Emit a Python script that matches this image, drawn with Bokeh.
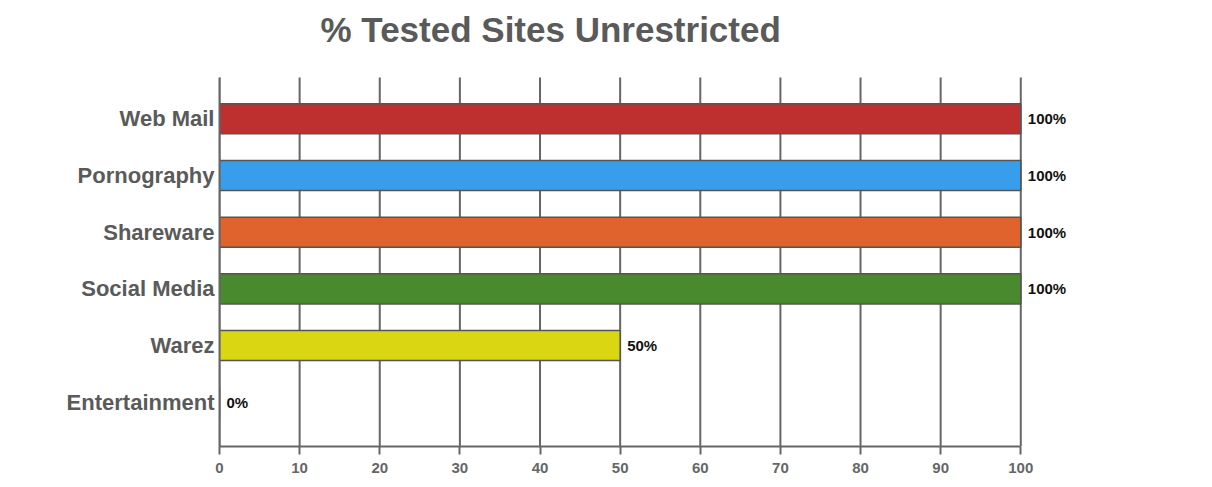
from bokeh.plotting import figure
from bokeh.models import Range1d, FixedTicker, ColumnDataSource, Label
from bokeh.core.properties import value
from bokeh.embed import file_html
from bokeh.resources import INLINE

title_text = "% Tested Sites Unrestricted"
categories = ["Web Mail", "Pornography", "Shareware", "Social Media", "Warez", "Entertainment"]
percent_values = [100, 100, 100, 100, 50, 0]
bar_colors = ["#BE2F2F", "#389EEB", "#E0632E", "#488A2D", "#DAD712", "#FFFFFF"]
x_ticks = [0, 10, 20, 30, 40, 50, 60, 70, 80, 90, 100]

FONT = "Liberation Sans"
GRAY = "#5a5a5a"
LINE = "#666666"

n = len(categories)
y_pos = [n - 1 - i for i in range(n)]          # first category at the top

Y_BOTTOM = -0.78          # lower edge of the plotting area
Y_GRID_TOP = n - 1 + 0.728  # where the grid/axis stops at the top
Y_TOP = n - 1 + 2.086     # frame extends upward to hold the title

source = ColumnDataSource(dict(
    y=y_pos,
    cat=categories,
    val=percent_values,
    color=bar_colors,
    label=[f"{v}%" for v in percent_values],
))
grid_source = ColumnDataSource(dict(x=x_ticks))

p = figure(
    y_range=Range1d(Y_BOTTOM, Y_TOP),
    x_range=Range1d(0, 108.7),
    frame_width=871, frame_height=446,
    min_border_left=219, min_border_top=0, min_border_right=10, min_border_bottom=30,
    output_backend="svg", toolbar_location=None,
)

p.outline_line_color = None
p.background_fill_color = "white"
p.border_fill_color = "white"

# grid (vertical lines at the tick values, stopping below the title)
p.xgrid.grid_line_color = None
p.ygrid.grid_line_color = None
p.segment(x0="x", x1="x", y0=Y_BOTTOM, y1=Y_GRID_TOP, source=grid_source,
          line_color=LINE, line_width=2)

# bars
p.hbar(y="y", right="val", left=0, height=0.53, source=source,
       fill_color="color", line_color="#555555", line_width=1.5)

p.text(x="val", y="y", text="label", source=source, x_offset=7,
       text_baseline="middle", text_align="left",
       text_font=value(FONT), text_font_size="15px", text_font_style="bold",
       text_color="#111111")

# title
p.add_layout(Label(x=0, y=Y_GRID_TOP, x_offset=101, y_offset=48,
                   text=title_text, text_font=FONT, text_font_size="35px",
                   text_font_style="bold", text_color=GRAY,
                   text_align="left", text_baseline="alphabetic"))

# x axis
xa = p.xaxis[0]
xa.ticker = FixedTicker(ticks=x_ticks)
xa.bounds = (0, 100)
xa.axis_line_color = LINE
xa.axis_line_width = 2
xa.major_tick_line_color = LINE
xa.major_tick_line_width = 2
xa.major_tick_in = 0
xa.major_tick_out = 8
xa.minor_tick_line_color = None
xa.major_label_text_font = FONT
xa.major_label_text_font_size = "15px"
xa.major_label_text_font_style = "bold"
xa.major_label_text_color = LINE
xa.major_label_standoff = 8

# y axis
ya = p.yaxis[0]
ya.ticker = FixedTicker(ticks=y_pos)
ya.major_label_overrides = {y: c for y, c in zip(y_pos, categories)}
ya.bounds = (Y_BOTTOM, Y_GRID_TOP)
ya.axis_line_color = LINE
ya.axis_line_width = 2
ya.major_tick_line_color = None
ya.major_tick_in = 0
ya.major_tick_out = 0
ya.minor_tick_line_color = None
ya.major_label_text_font = FONT
ya.major_label_text_font_size = "22px"
ya.major_label_text_font_style = "bold"
ya.major_label_text_color = GRAY
ya.major_label_standoff = 5

open("out.html", "w").write(file_html(p, INLINE))
